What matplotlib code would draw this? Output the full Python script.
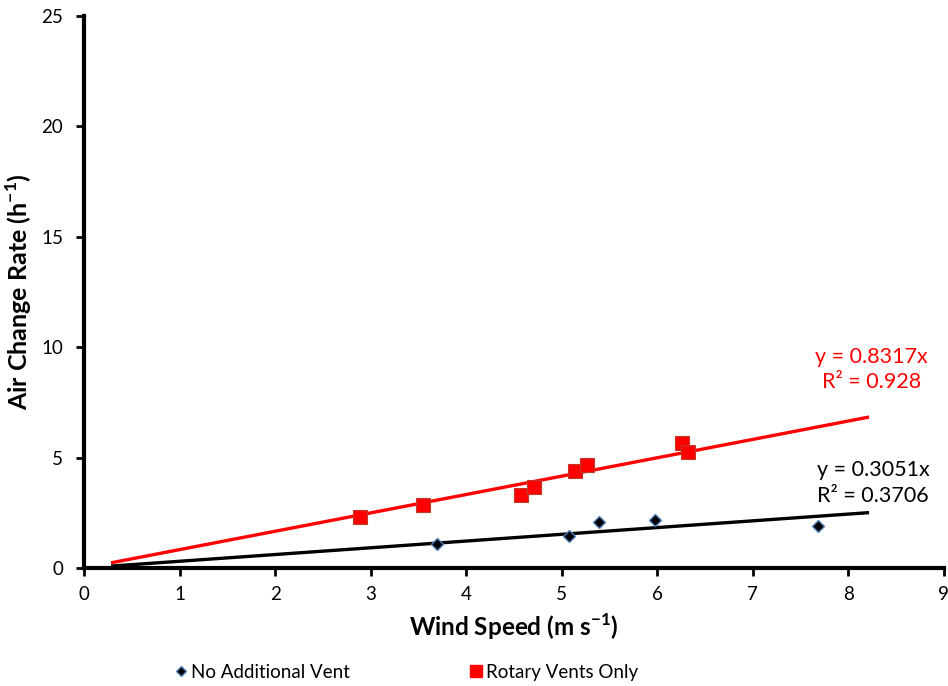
import numpy as np
import matplotlib.pyplot as plt
from matplotlib.lines import Line2D

plt.rcParams['font.family'] = ['Lato', 'DejaVu Sans']
plt.rcParams['mathtext.fontset'] = 'custom'
plt.rcParams['mathtext.rm'] = 'Lato'
plt.rcParams['mathtext.bf'] = 'Lato:bold'

# data
no_vent_x = [3.69, 5.08, 5.39, 5.98, 7.68]
no_vent_y = [1.09, 1.45, 2.08, 2.17, 1.90]
rotary_x = [2.89, 3.55, 4.57, 4.71, 5.14, 5.27, 6.26, 6.32]
rotary_y = [2.31, 2.85, 3.30, 3.67, 4.39, 4.66, 5.66, 5.25]
slopes = {'no_vent': 0.3051, 'rotary': 0.8317}
r2 = {'no_vent': 0.3706, 'rotary': 0.928}
trend_x = [0.3, 8.2]

fig = plt.figure(figsize=(9.48, 6.86), dpi=100)
ax = fig.add_axes([0.0886, 0.172, 0.907, 0.805])

tx = np.array(trend_x)
ax.plot(tx, slopes['rotary'] * tx, color='#ff0000', lw=2.4, zorder=2)
ax.plot(tx, slopes['no_vent'] * tx, color='black', lw=2.4, zorder=2)

ax.plot(rotary_x, rotary_y, ls='none', marker='s', ms=9.5,
        mfc='#ff0000', mec='#c0392b', mew=0.8, zorder=3)
ax.plot(no_vent_x, no_vent_y, ls='none', marker='D', ms=6.5,
        mfc='black', mec='#4f81bd', mew=1.0, zorder=3)

# trendline equations
ax.text(8.24, 9.0, f"y = {slopes['rotary']}x\nR² = {r2['rotary']}",
        color='#ff0000', fontsize=15.5, ha='center', va='center', linespacing=1.3)
ax.text(8.26, 3.85, f"y = {slopes['no_vent']}x\nR² = {r2['no_vent']}",
        color='black', fontsize=15.5, ha='center', va='center', linespacing=1.35)

ax.set_xlim(0, 9)
ax.set_ylim(0, 25)
ax.set_xticks(range(0, 10))
ax.set_yticks(range(0, 26, 5))
for s in ['top', 'right']:
    ax.spines[s].set_visible(False)
for s in ['left', 'bottom']:
    ax.spines[s].set_linewidth(3)
ax.tick_params(axis='both', direction='out', length=6, width=2,
               labelsize=13.5, colors='black')
ax.tick_params(axis='y', pad=9)
ax.tick_params(axis='x', pad=7)

ax.set_xlabel(r'Wind Speed (m s$^{\mathbf{-1}}$)', fontsize=17.5, fontweight='bold', labelpad=6)
ax.set_ylabel(r'Air Change Rate (h$^{\mathbf{-1}}$)', fontsize=18, fontweight='bold', labelpad=5)

handles = [
    Line2D([], [], ls='none', marker='D', ms=5.5, mfc='black', mec='#4f81bd'),
    Line2D([], [], ls='none', marker='s', ms=8.5, mfc='#ff0000', mec='#ff0000'),
]
fig.legend(handles, ['No Additional Vent', 'Rotary Vents Only'],
           loc='center', bbox_to_anchor=(0.427, 0.02), ncol=2, frameon=False,
           fontsize=13.5, handletextpad=0.05, columnspacing=6.2, handlelength=1)

fig.savefig('out.png', dpi=100)
